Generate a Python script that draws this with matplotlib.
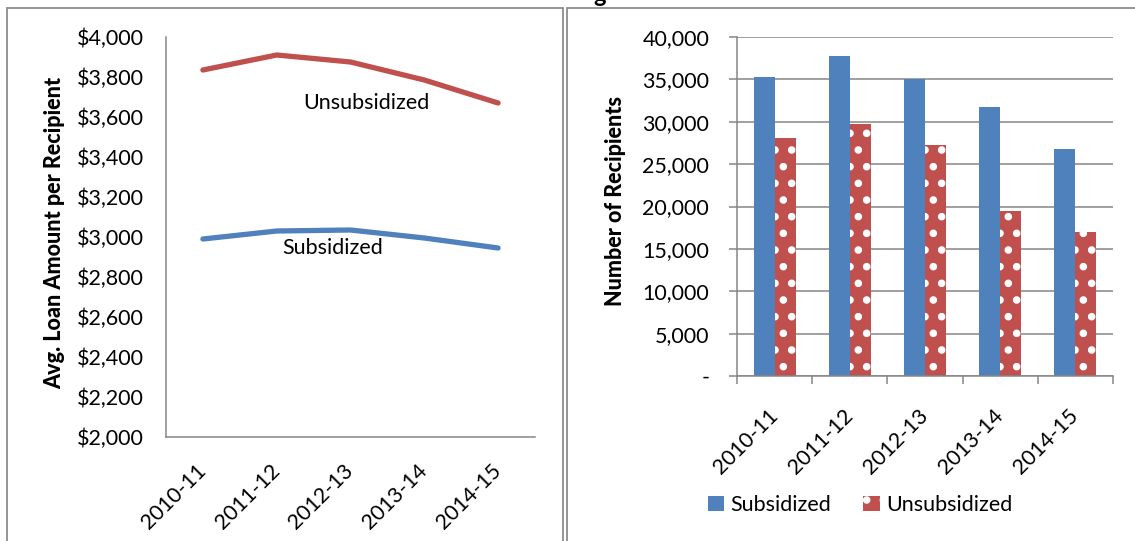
import numpy as np
import matplotlib
matplotlib.use("Agg")
import matplotlib.pyplot as plt
from matplotlib.patches import Rectangle

plt.rcParams['font.family'] = ['Lato', 'DejaVu Sans']
plt.rcParams['hatch.linewidth'] = 3.0

# ---------------- data ----------------
years = ['2010-11', '2011-12', '2012-13', '2013-14', '2014-15']

# avg loan amount per recipient
avg_unsub = [3835, 3910, 3875, 3785, 3670]
avg_sub = [2990, 3030, 3035, 2995, 2945]

# number of recipients
n_sub = [35300, 37800, 35100, 31700, 26800]
n_unsub = [28100, 29700, 27300, 19500, 17000]

BLUE = '#4F81BD'
RED = '#C0504D'
GRAY = '#868686'
TICKSIZE = 15.5

W, H = 1135, 541
fig = plt.figure(figsize=(W / 100, H / 100), dpi=100)

# chart frames (like two pasted excel charts)
fig.patches.append(Rectangle((7 / W, -0.1), 556 / W, 1.1 - 8 / H, transform=fig.transFigure,
                             fill=False, edgecolor='#8c8c8c', lw=1.3))
fig.patches.append(Rectangle((567 / W, -0.1), 0.6, 1.1 - 8 / H, transform=fig.transFigure,
                             fill=False, edgecolor='#8c8c8c', lw=1.3))
# cut off title above
fig.text(0.528, 0.997, 'g', fontsize=17, fontweight='bold', ha='center', va='baseline')

x = np.arange(len(years))

############ left: average amount ############
ax1 = fig.add_axes([166 / W, 1 - 437 / H, 369 / W, 400 / H])
ax1.plot(x, avg_unsub, color=RED, lw=3.8, solid_capstyle='round')
ax1.plot(x, avg_sub, color=BLUE, lw=3.8, solid_capstyle='round')
ax1.set_xlim(-0.5, len(years) - 0.5)
ax1.set_ylim(2000, 4000)
ax1.set_yticks(np.arange(2000, 4001, 200))
ax1.set_yticklabels(['${:,}'.format(v) for v in range(2000, 4001, 200)])
ax1.set_xticks(x)
ax1.set_xticklabels(years, rotation=45, ha='right', va='center', rotation_mode='anchor')
ax1.tick_params(axis='y', length=0, pad=16, labelsize=TICKSIZE)
ax1.tick_params(axis='x', length=0, pad=22, labelsize=TICKSIZE)
for s in ['top', 'right']:
    ax1.spines[s].set_visible(False)
for s in ['left', 'bottom']:
    ax1.spines[s].set_color(GRAY)
    ax1.spines[s].set_linewidth(1.1)
ax1.set_ylabel('Avg. Loan Amount per Recipient', fontsize=15.5, fontweight='black')
ax1.yaxis.set_label_coords(-0.272, 0.51)
ax1.text(2.21, 3670, 'Unsubsidized', fontsize=TICKSIZE, ha='center', va='center')
ax1.text(1.76, 2945, 'Subsidized', fontsize=TICKSIZE, ha='center', va='center')

############ right: number of recipients ############
ax2 = fig.add_axes([737 / W, 1 - 376 / H, 376 / W, 339 / H])
bw = 0.28
ax2.bar(x - bw / 2, n_sub, bw, color=BLUE, label='Subsidized', zorder=2)
ax2.bar(x + bw / 2, n_unsub, bw, color=RED, edgecolor='white', linewidth=0,
        hatch='.', label='Unsubsidized', zorder=2)
ax2.set_xlim(-0.5, len(years) - 0.5)
ax2.set_ylim(0, 40000)
yt = np.arange(0, 40001, 5000)
ax2.set_yticks(yt)
ax2.set_yticklabels(['-'] + ['{:,}'.format(v) for v in yt[1:]])
ax2.yaxis.grid(True, color=GRAY, lw=1.1, zorder=0)
ax2.set_axisbelow(True)
ax2.set_xticks(x)
ax2.set_xticklabels(years, rotation=45, ha='right', va='center', rotation_mode='anchor')
ax2.set_xticks(np.arange(len(years) + 1) - 0.5, minor=True)
ax2.tick_params(axis='x', which='major', length=0, pad=26, labelsize=TICKSIZE)
ax2.tick_params(axis='x', which='minor', length=6, width=1.1, color=GRAY)
ax2.tick_params(axis='y', length=6, width=1.1, color=GRAY, pad=14, labelsize=TICKSIZE)
for s in ['top', 'right']:
    ax2.spines[s].set_visible(False)
for s in ['left', 'bottom']:
    ax2.spines[s].set_color(GRAY)
    ax2.spines[s].set_linewidth(1.1)
ax2.set_ylabel('Number of Recipients', fontsize=15.5, fontweight='black')
ax2.yaxis.set_label_coords(-0.295, 0.516)
ax2.legend(loc='center', bbox_to_anchor=(860 / W, 1 - 505 / H), bbox_transform=fig.transFigure,
           ncol=2, frameon=False, fontsize=TICKSIZE, handlelength=0.75, handleheight=0.75,
           handletextpad=0.3, columnspacing=1.5)

fig.savefig('out.png', dpi=100)
